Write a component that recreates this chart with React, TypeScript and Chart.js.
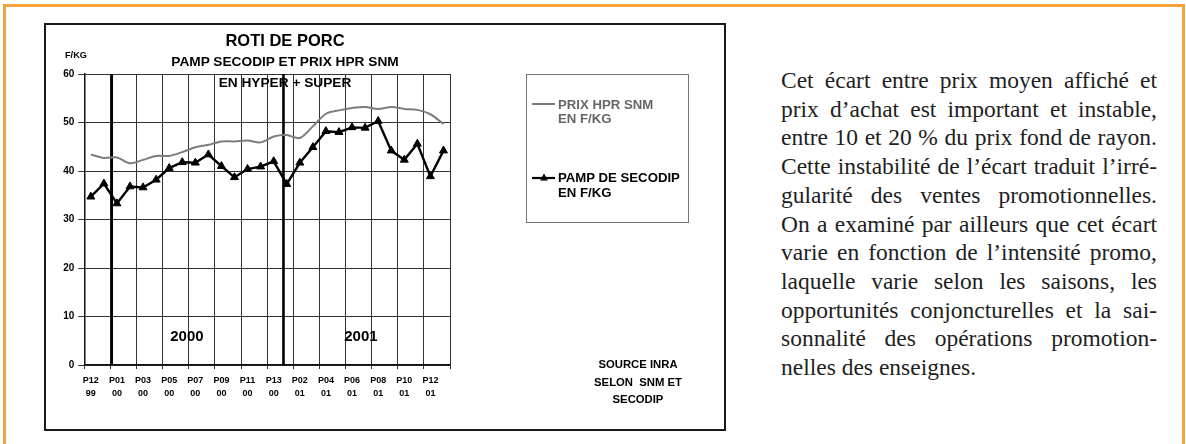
import React, { useEffect, useRef } from 'react';
import { Chart, registerables } from 'chart.js';

Chart.register(...registerables);

// ---- data ----
const periods = [
  'P12 99', 'P13 99',
  'P01 00', 'P02 00', 'P03 00', 'P04 00', 'P05 00', 'P06 00', 'P07 00', 'P08 00', 'P09 00', 'P10 00', 'P11 00', 'P12 00', 'P13 00',
  'P01 01', 'P02 01', 'P03 01', 'P04 01', 'P05 01', 'P06 01', 'P07 01', 'P08 01', 'P09 01', 'P10 01', 'P11 01', 'P12 01', 'P13 01',
];
const prixHprSnm = [43.4, 42.7, 42.8, 41.6, 42.3, 43.1, 43.1, 43.9, 44.9, 45.4, 46.1, 46.1, 46.3, 45.9, 47.1, 47.4, 46.8, 49.2, 51.8, 52.5, 53.0, 53.2, 52.8, 53.2, 52.8, 52.6, 51.7, 49.7];
const pampSecodip = [34.7, 37.4, 33.3, 36.8, 36.6, 38.2, 40.6, 41.8, 41.7, 43.4, 41.0, 38.7, 40.4, 40.9, 42.0, 37.3, 41.7, 44.9, 48.2, 48.0, 49.0, 48.9, 50.3, 44.2, 42.3, 45.6, 38.9, 44.2];
const seriesLabels = ['PRIX HPR SNM EN F/KG', 'PAMP DE SECODIP EN F/KG'];
const yearLabels = ['2000', '2001'];
const titleLines = ['ROTI DE PORC', 'PAMP SECODIP ET PRIX HPR SNM', 'EN HYPER + SUPER'];
const sourceLines = ['SOURCE INRA', 'SELON  SNM ET', 'SECODIP'];
const paragraph = [
  'Cet écart entre prix moyen affiché et',
  'prix d’achat est important et instable,',
  'entre 10 et 20 % du prix fond de rayon.',
  'Cette instabilité de l’écart traduit l’irré-',
  'gularité des ventes promotionnelles.',
  'On a examiné par ailleurs que cet écart',
  'varie en fonction de l’intensité promo,',
  'laquelle varie selon les saisons, les',
  'opportunités conjoncturelles et la sai-',
  'sonnalité des opérations promotion-',
  'nelles des enseignes.',
];

// ---- layout constants (category-index positions for annotations) ----
const YEAR_BREAKS = [1.6, 14.75];
const YEAR_LABEL_AT = [7.36, 20.68];
const YEAR_LABEL_Y = 5.8;

const SANS = '"Liberation Sans", Arial, sans-serif';
const SERIF = '"Liberation Serif", "Times New Roman", serif';
const ORANGE = '#F6A23E';

const yearMarks = {
  id: 'yearMarks',
  beforeDatasetsDraw(chart: any) {
    const { ctx, chartArea, scales } = chart;
    const x = scales.x;
    const y = scales.y;
    ctx.save();
    ctx.strokeStyle = '#000';
    ctx.lineWidth = 2.6;
    YEAR_BREAKS.forEach((v) => {
      const px = x.getPixelForValue(v);
      ctx.beginPath();
      ctx.moveTo(px, chartArea.top);
      ctx.lineTo(px, chartArea.bottom);
      ctx.stroke();
    });
    ctx.fillStyle = '#000';
    ctx.font = 'bold 15px ' + SANS;
    ctx.textAlign = 'center';
    ctx.textBaseline = 'middle';
    yearLabels.forEach((t, i) => {
      ctx.fillText(t, x.getPixelForValue(YEAR_LABEL_AT[i]), y.getPixelForValue(YEAR_LABEL_Y));
    });
    ctx.restore();
  },
};

const GRID = '#333';

function ChartCanvas() {
  const ref = useRef<HTMLCanvasElement | null>(null);
  useEffect(() => {
    if (!ref.current) return;
    const chart = new Chart(ref.current, {
      type: 'line',
      data: {
        labels: periods,
        datasets: [
          {
            label: seriesLabels[0],
            data: prixHprSnm,
            borderColor: '#7c7c7c',
            borderWidth: 2,
            pointRadius: 0,
            tension: 0.3,
            order: 2,
          },
          {
            label: seriesLabels[1],
            data: pampSecodip,
            borderColor: '#000',
            backgroundColor: '#000',
            borderWidth: 2.4,
            pointStyle: 'triangle',
            pointRadius: 4.6,
            pointBackgroundColor: '#000',
            pointBorderColor: '#000',
            pointBorderWidth: 1,
            tension: 0,
            order: 1,
          },
        ],
      },
      options: {
        animation: false,
        responsive: false,
        devicePixelRatio: 1,
        events: [],
        layout: { padding: { left: 0, right: 275, top: 51, bottom: 0 } },
        plugins: { legend: { display: false }, title: { display: false }, tooltip: { enabled: false } },
        scales: {
          x: {
            type: 'category',
            offset: true,
            afterFit: (s: any) => { s.height = 66; },
            grid: {
              offset: true,
              color: (c: any) => (c.index === undefined || c.index % 2 === 0 ? GRID : 'rgba(0,0,0,0)'),
              lineWidth: 1,
              tickLength: 4,
              drawTicks: true,
            },
            border: { display: true, color: '#111', width: 1.5 },
            ticks: {
              autoSkip: false,
              maxRotation: 0,
              minRotation: 0,
              padding: 5,
              color: '#000',
              font: { family: SANS, size: 9, weight: 'bold', lineHeight: 1.45 },
              callback: (_v: any, i: number) => (i % 2 === 0 ? periods[i].split(' ') : ''),
            },
          },
          y: {
            min: 0,
            max: 60,
            afterFit: (s: any) => { s.width = 40.3; },
            grid: { color: GRID, lineWidth: 1, tickLength: 6 },
            border: { display: true, color: '#111', width: 1.5 },
            ticks: {
              stepSize: 10,
              padding: 4,
              color: '#000',
              font: { family: SANS, size: 10, weight: 'bold' },
            },
          },
        },
      },
      plugins: [yearMarks],
    } as any);
    return () => chart.destroy();
  }, []);
  return (
    <canvas
      ref={ref}
      width={681}
      height={408}
      style={{ position: 'absolute', left: 44, top: 23, width: 681, height: 408 }}
    />
  );
}

const abs = (o: React.CSSProperties): React.CSSProperties => ({ position: 'absolute', ...o });

export default function App() {
  return (
    <div
      style={{
        position: 'fixed', left: 0, top: 0, width: 1186, height: 444, overflow: 'hidden',
        background: '#fff', fontFamily: SANS,
      }}
    >
      {/* orange frame */}
      <div style={abs({ left: 3, top: 4, width: 1182, height: 520, border: `3px solid ${ORANGE}`, boxSizing: 'border-box' })} />

      {/* chart box */}
      <div style={abs({ left: 44, top: 23, width: 681, height: 408, background: '#fff' })} />
      <ChartCanvas />
      <div style={abs({ left: 44, top: 23, width: 682, height: 408, border: '2px solid #1a1a1a', boxSizing: 'border-box', pointerEvents: 'none' })} />

      {/* titles */}
      <div style={abs({ left: 85, top: 30, width: 400, lineHeight: '20px', textAlign: 'center', fontWeight: 'bold', fontSize: 16.5, color: '#000' })}>{titleLines[0]}</div>
      <div style={abs({ left: 85, top: 51.7, width: 400, lineHeight: '20px', textAlign: 'center', fontWeight: 'bold', fontSize: 13.7, color: '#000' })}>{titleLines[1]}</div>
      <div style={abs({ left: 85, top: 73.3, width: 400, lineHeight: '20px', textAlign: 'center', fontWeight: 'bold', fontSize: 13.7, color: '#000' })}>{titleLines[2]}</div>

      {/* y unit */}
      <div style={abs({ left: 65, top: 49, lineHeight: '12px', fontWeight: 'bold', fontSize: 9.2, color: '#000' })}>F/KG</div>

      {/* legend */}
      <div style={abs({ left: 526, top: 74, width: 163, height: 149, border: '1.5px solid #777', boxSizing: 'border-box' })} />
      <div style={abs({ left: 532, top: 103, width: 23, height: 2, background: '#7c7c7c' })} />
      <div style={abs({ left: 558, top: 97.8, lineHeight: '14.5px', fontWeight: 'bold', fontSize: 13.2, color: '#666' })}>
        <div>PRIX HPR SNM</div>
        <div>EN F/KG</div>
      </div>
      <svg style={abs({ left: 530, top: 170, width: 28, height: 16 })} width={28} height={16}>
        <line x1={2} y1={8} x2={25} y2={8} stroke="#000" strokeWidth={2.2} />
        <polygon points="14,3.5 18,10.5 10,10.5" fill="#000" />
      </svg>
      <div style={abs({ left: 558, top: 171, lineHeight: '14.5px', fontWeight: 'bold', fontSize: 13.2, color: '#000' })}>
        <div>PAMP DE SECODIP</div>
        <div>EN F/KG</div>
      </div>

      {/* source */}
      <div style={abs({ left: 558, top: 356.3, width: 160, lineHeight: '17.5px', textAlign: 'center', fontWeight: 'bold', fontSize: 11.3, color: '#000', whiteSpace: 'pre' })}>
        {sourceLines.map((l, i) => <div key={i}>{l}</div>)}
      </div>

      {/* paragraph */}
      <div style={abs({ left: 781, top: 66, width: 376, fontFamily: SERIF, fontSize: 23.5, lineHeight: '28.7px', color: '#1e1e1e' })}>
        {paragraph.map((l, i) => (
          <div
            key={i}
            style={{
              textAlign: i === paragraph.length - 1 ? 'left' : 'justify',
              textAlignLast: i === paragraph.length - 1 ? 'left' : 'justify',
              whiteSpace: 'nowrap',
            } as React.CSSProperties}
          >
            {l}
          </div>
        ))}
      </div>
    </div>
  );
}
